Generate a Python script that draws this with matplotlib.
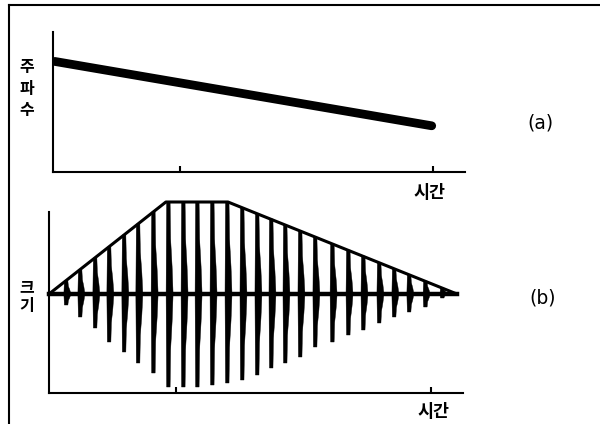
import matplotlib
matplotlib.use("Agg")
import matplotlib.pyplot as plt
from matplotlib.lines import Line2D

plt.rcParams['font.family'] = ['Noto Sans CJK KR', 'DejaVu Sans']

# ---------------- data ----------------
# (a) frequency vs time (straight, decreasing)
freq_t = [0.05, 11.95]
freq_v = [7.9, 3.3]

# (b) amplitude envelope
env_t = [0.0, 3.67, 5.62, 12.81]
env_v = [0.0, 9.2, 9.2, 0.0]

# (b) burst positions and their upper / lower extents
burst_t = [0.53, 0.97, 1.44, 1.88, 2.35, 2.79, 3.27, 3.74, 4.21, 4.65, 5.12, 5.59,
           6.06, 6.53, 6.97, 7.41, 7.88, 8.35, 8.89, 9.39, 9.86, 10.36, 10.83,
           11.30, 11.81, 12.34]
burst_up = [1.3, 2.4, 3.6, 4.7, 5.9, 7.0, 8.2, 9.2, 9.2, 9.2, 9.2, 9.2,
            8.6, 8.0, 7.5, 6.9, 6.3, 5.7, 5.0, 4.4, 3.8, 3.1, 2.5, 1.9, 1.3, 0.6]
burst_dn = [1.1, 2.3, 3.4, 4.8, 5.8, 6.9, 7.9, 9.3, 9.3, 9.3, 9.1, 8.9,
            8.6, 8.1, 7.4, 6.9, 6.3, 5.3, 4.8, 4.1, 3.6, 2.9, 2.3, 1.8, 1.3, 0.4]

x_ticks = [4, 12]
ylabel_a = ["주", "파", "수"]
ylabel_b = ["크", "기"]
xlabel = "시간"
panel_labels = ["(a)", "(b)"]

# ---------------- layout helpers ----------------
W, H = 600, 424
fig = plt.figure(figsize=(6, 4.24), dpi=100)
fig.patch.set_facecolor("white")


def rect(x0, x1, ytop, ybot):
    return [x0 / W, 1 - ybot / H, (x1 - x0) / W, (ybot - ytop) / H]


def style(ax):
    for s in ("top", "right"):
        ax.spines[s].set_visible(False)
    for s in ("left", "bottom"):
        ax.spines[s].set_linewidth(1.5)
        ax.spines[s].set_color("black")
    ax.set_xlim(0, 13)
    ax.set_xticks(x_ticks)
    ax.set_xticklabels([])
    ax.set_yticks([])
    ax.tick_params(axis="x", direction="in", length=4, width=1.5, colors="black")
    ax.set_facecolor("none")

# outer frame (left and top lines only)
fig.add_artist(Line2D([9 / W, 9 / W], [1 - 5 / H, 0], color="black", lw=1.5,
                      transform=fig.transFigure))
fig.add_artist(Line2D([9 / W, 1], [1 - 5 / H, 1 - 5 / H], color="black", lw=1.5,
                      transform=fig.transFigure))

# ---------------- panel (a) ----------------
ax1 = fig.add_axes(rect(53, 465, 32, 172))
style(ax1)
ax1.set_ylim(0, 10)
ax1.plot(freq_t, freq_v, color="black", lw=6.3, solid_capstyle="round")

# ---------------- panel (b) ----------------
ax2 = fig.add_axes(rect(49, 463, 212, 393))
style(ax2)
ax2.set_ylim(-9.9, 8.2)

px = 1 / 31.85  # one pixel in time units
right_off = [2.0, 2.5, 4.0, 5.0, 4.0, 2.5, 2.0]
right_frac = [1.0, 0.6, 0.3, 0.0, -0.3, -0.6, -1.0]
for t, u, d in zip(burst_t, burst_up, burst_dn):
    xs, ys = [], []
    for o, f in zip(right_off, right_frac):
        xs.append(t + o * px)
        ys.append(f * (u if f >= 0 else d))
    xs += [t - 1.5 * px, t - 2.0 * px, t - 1.5 * px]
    ys += [-d, 0.0, u]
    ax2.fill(xs, ys, color="black", lw=0.3, edgecolor="black", clip_on=False)

ax2.plot([0, env_t[-1]], [0, 0], color="black", lw=3.2, clip_on=False)
ax2.plot(env_t, env_v, color="black", lw=2.2, solid_joinstyle="round",
         clip_on=False)

# ---------------- text ----------------
for ch, yy in zip(ylabel_a, [67, 89, 110]):
    fig.text(27 / W, 1 - yy / H, ch, ha="center", va="center", fontsize=11.5,
             fontweight="bold")
for ch, yy in zip(ylabel_b, [287, 306]):
    fig.text(27 / W, 1 - yy / H, ch, ha="center", va="center", fontsize=11.5,
             fontweight="bold")
fig.text(429 / W, 1 - 193 / H, xlabel, ha="center", va="center", fontsize=12.5,
         fontweight="bold")
fig.text(433 / W, 1 - 412 / H, xlabel, ha="center", va="center", fontsize=12.5,
         fontweight="bold")
fig.text(540 / W, 1 - 123 / H, panel_labels[0], ha="center", va="center",
         fontsize=13.5, family="DejaVu Sans")
fig.text(543 / W, 1 - 298 / H, panel_labels[1], ha="center", va="center",
         fontsize=13.5, family="DejaVu Sans")

fig.savefig("out.png", dpi=100)
